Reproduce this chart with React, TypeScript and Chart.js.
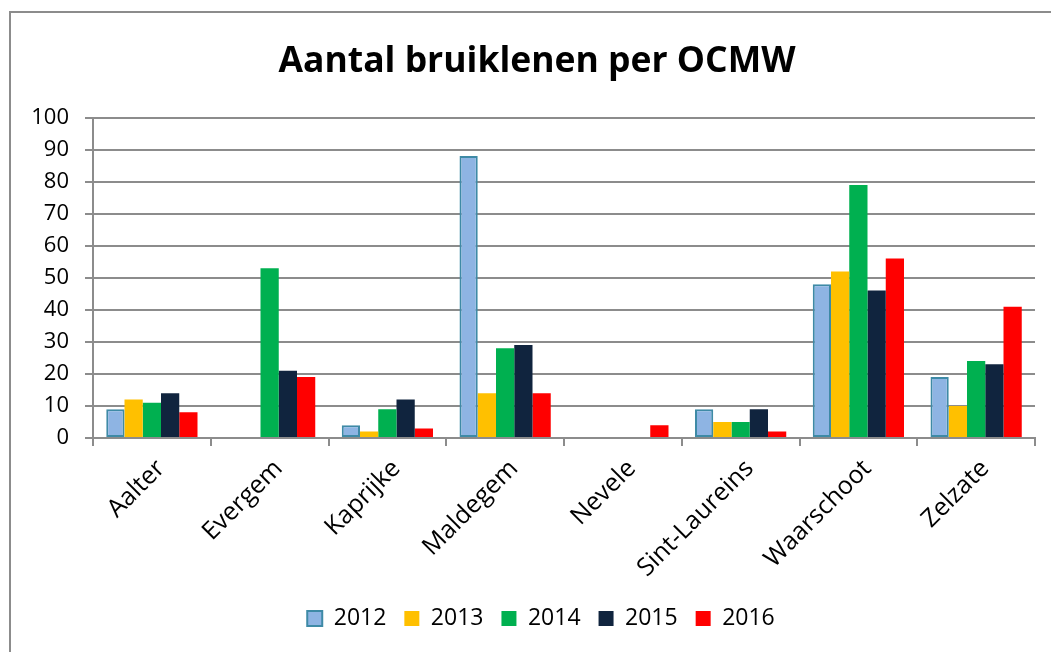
import React, { useEffect, useRef } from "react";
import { Chart, registerables } from "chart.js";

Chart.register(...registerables);

const categories = ["Aalter", "Evergem", "Kaprijke", "Maldegem", "Nevele", "Sint-Laureins", "Waarschoot", "Zelzate"];
const years = ["2012", "2013", "2014", "2015", "2016"];
const values2012 = [9, null, 4, 88, null, 9, 48, 19];
const values2013 = [12, null, 2, 14, null, 5, 52, 10];
const values2014 = [11, 53, 9, 28, null, 5, 79, 24];
const values2015 = [14, 21, 12, 29, null, 9, 46, 23];
const values2016 = [8, 19, 3, 14, 4, 2, 56, 41];
const yTicks = [0, 10, 20, 30, 40, 50, 60, 70, 80, 90, 100];
const titleText = "Aantal bruiklenen per OCMW";

const fills = ["#8EB4E3", "#FFC000", "#00B050", "#10243E", "#FF0000"];
const borders = ["#3E8AA6", "#FFC000", "#00B050", "#10243E", "#FF0000"];

const FONT = "'Open Sans', 'DejaVu Sans', sans-serif";

const framePlugin = {
  id: "frame",
  afterLayout(chart: any) {
    if (chart.legend) chart.legend.left = 47;
    if (chart.titleBlock) chart.titleBlock.left = 39;
  },
  beforeDraw(chart: any) {
    const ctx = chart.ctx;
    ctx.save();
    ctx.fillStyle = "#ffffff";
    ctx.fillRect(0, 0, chart.width, chart.height);
    ctx.strokeStyle = "#8c8c8c";
    ctx.lineWidth = 2;
    ctx.beginPath();
    ctx.moveTo(10, chart.height + 5);
    ctx.lineTo(10, 12);
    ctx.lineTo(chart.width + 5, 12);
    ctx.stroke();
    ctx.restore();
  },
};

export default function App() {
  const ref = useRef<HTMLCanvasElement | null>(null);
  useEffect(() => {
    if (!ref.current) return;
    const series = [values2012, values2013, values2014, values2015, values2016];
    const chart = new Chart(ref.current, {
      type: "bar",
      data: {
        labels: categories,
        datasets: series.map((d, i) => ({
          label: years[i],
          data: d,
          backgroundColor: fills[i],
          borderColor: borders[i],
          borderWidth: i === 0 ? 2 : 0,
          borderSkipped: i === 0 ? false : "start",
          barPercentage: 1,
          categoryPercentage: 0.775,
        })),
      },
      options: {
        responsive: false,
        animation: false,
        layout: { padding: { left: 0, right: 16, top: 0, bottom: 12 } },
        plugins: {
          title: {
            display: true,
            text: titleText,
            color: "#000",
            font: { family: FONT, size: 35.5, weight: "bold" },
            padding: { top: 41, bottom: 34 },
          },
          legend: {
            position: "bottom",
            labels: {
              color: "#000",
              font: { family: FONT, size: 23 },
              boxWidth: 15,
              boxHeight: 15,
              padding: 18,
            },
          },
          tooltip: { enabled: false },
        },
        scales: {
          x: {
            grid: {
              offset: true,
              drawOnChartArea: false,
              drawTicks: true,
              tickLength: 8,
              color: "#8c8c8c",
              lineWidth: 2,
            },
            border: { display: true, color: "#8c8c8c", width: 2 },
            ticks: {
              color: "#000",
              font: { family: FONT, size: 25 },
              maxRotation: 45,
              minRotation: 45,
              padding: 8,
              labelOffset: 9,
              autoSkip: false,
            },
            afterFit(scale: any) {
              scale.height = 151;
            },
          },
          y: {
            min: 0,
            max: 100,
            afterBuildTicks(scale: any) {
              scale.ticks = yTicks.map((v) => ({ value: v }));
            },
            grid: {
              color: "#8c8c8c",
              lineWidth: 2,
              tickLength: 8,
            },
            border: { display: true, color: "#8c8c8c", width: 2 },
            ticks: {
              color: "#000",
              font: { family: FONT, size: 22 },
              padding: 16,
            },
            afterFit(scale: any) {
              scale.width = 93;
            },
          },
        },
      },
      plugins: [framePlugin],
    });
    return () => chart.destroy();
  }, []);
  return (
    <div style={{ position: "fixed", left: 0, top: 0, width: 1051, height: 652, background: "#fff" }}>
      <canvas ref={ref} width={1051} height={652} style={{ width: 1051, height: 652, display: "block" }} />
    </div>
  );
}
